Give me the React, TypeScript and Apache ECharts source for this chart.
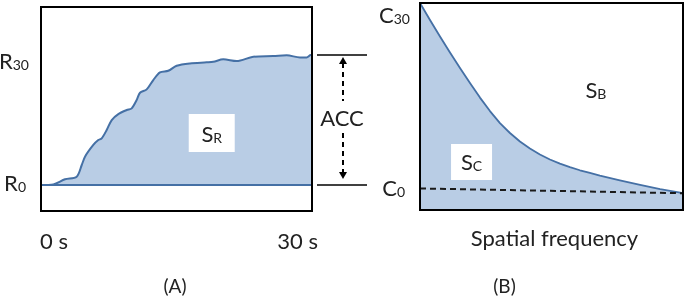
import React, { useEffect, useRef } from 'react';
import * as echarts from 'echarts';

// Panel A: response over time (R0 = 0, R30 = 1)
const timeSec = [0, 1.36, 2.66, 3.95, 4.51, 4.87, 5.79, 6.34, 6.72, 7.27, 7.83, 8.56, 9.49, 10.04, 10.59, 10.96, 11.7, 12.43, 13.17, 14.09, 15.02, 16.49, 18.34, 19.07, 20.18, 21.66, 23.5, 25.71, 27.2, 28.67, 29.41, 29.86, 30];
const responseA = [0, 0.005, 0.044, 0.064, 0.154, 0.218, 0.308, 0.346, 0.359, 0.423, 0.5, 0.546, 0.577, 0.59, 0.654, 0.71, 0.736, 0.808, 0.867, 0.879, 0.918, 0.936, 0.944, 0.948, 0.967, 0.954, 0.987, 0.992, 0.998, 0.982, 0.982, 1.0, 1.0];
const baselineA = [[0, 0], [30, 0], [30, 1]];

// Panel B: contrast vs spatial frequency
const freqB = [0, 3.8, 7.6, 11.4, 15.2, 19.0, 22.8, 26.6, 30.4, 34.2, 38.0, 41.8, 45.6, 49.4, 53.2, 57.0, 60.8, 64.6, 68.4, 76.0, 83.7, 91.3, 100];
const contrastB = [100, 91.8, 83.8, 76.1, 68.6, 61.4, 54.3, 47.8, 42.0, 37.2, 33.1, 29.7, 26.8, 24.4, 22.4, 20.7, 19.2, 17.9, 16.6, 14.3, 12.1, 10.1, 8.1];
const c0Freq = [0, 100];
const c0Level = [10.4, 8.1];

// Labels
const rTicks = [{ base: 'R', sub: '30', value: 1 }, { base: 'R', sub: '0', value: 0 }];
const cTicks = [{ base: 'C', sub: '30', value: 100 }, { base: 'C', sub: '0', value: 10.4 }];
const timeLabels = ['0 s', '30 s'];
const freqLabel = 'Spatial frequency';
const panelLabels = ['(A)', '(B)'];
const accLabel = 'ACC';
const areaLabels = [
  { base: 'S', sub: 'R', x: 18.9, y: 0.4, panel: 0, boxed: true },
  { base: 'S', sub: 'C', x: 19.6, y: 23.2, panel: 1, boxed: true },
  { base: 'S', sub: 'B', x: 66.9, y: 58, panel: 1, boxed: false },
];

const FILL = '#b9cde5';
const LINE = '#4570a5';
const INK = '#222222';
const FONT = 'Lato';

const rich = {
  b: { fontSize: 22, fontFamily: FONT, fill: INK, color: INK, verticalAlign: 'bottom', lineHeight: 22 },
  s: { fontSize: 14, fontFamily: FONT, fill: INK, color: INK, verticalAlign: 'bottom', lineHeight: 15 },
};

export default function App() {
  const ref = useRef<HTMLDivElement>(null);
  useEffect(() => {
    if (!ref.current) return;
    const chart = echarts.init(ref.current, null, { renderer: 'svg' });
    chart.setOption({
      animation: false,
      grid: [
        { left: 41, top: 7, width: 271, height: 204, show: true, borderColor: '#000', borderWidth: 2, backgroundColor: 'transparent', z: 10 },
        { left: 420, top: 3, width: 263, height: 207, show: true, borderColor: '#000', borderWidth: 2, backgroundColor: 'transparent', z: 10 },
      ],
      xAxis: [
        { type: 'value', gridIndex: 0, min: 0, max: 30, show: false },
        { type: 'value', gridIndex: 1, min: 0, max: 100, show: false },
      ],
      yAxis: [
        { type: 'value', gridIndex: 0, min: -0.2, max: 1.37, show: false },
        { type: 'value', gridIndex: 1, min: 0, max: 100, show: false },
      ],
      series: [
        {
          type: 'line', xAxisIndex: 0, yAxisIndex: 0, symbol: 'none', smooth: 0.3,
          data: timeSec.map((t, i) => [t, responseA[i]]),
          lineStyle: { color: LINE, width: 2 },
          areaStyle: { color: FILL, opacity: 1, origin: 0 },
        },
        {
          type: 'line', xAxisIndex: 0, yAxisIndex: 0, symbol: 'none',
          data: baselineA,
          lineStyle: { color: LINE, width: 2 },
        },
        {
          type: 'line', xAxisIndex: 1, yAxisIndex: 1, symbol: 'none', smooth: false,
          data: freqB.map((f, i) => [f, contrastB[i]]),
          lineStyle: { color: LINE, width: 1.8, join: 'round' },
          areaStyle: { color: FILL, opacity: 1, origin: 'start' },
        },
        {
          type: 'line', xAxisIndex: 1, yAxisIndex: 1, symbol: 'none',
          data: c0Freq.map((f, i) => [f, c0Level[i]]),
          lineStyle: { color: '#1a1a1a', width: 2, type: [6, 4] },
          z: 3,
        },
      ],
    });

    const pA = (x: number, y: number) => chart.convertToPixel({ gridIndex: 0 }, [x, y]) as number[];
    const pB = (x: number, y: number) => chart.convertToPixel({ gridIndex: 1 }, [x, y]) as number[];
    const leftA = pA(0, 0)[0];
    const rightA = pA(30, 0)[0];
    const bottomA = pA(0, -0.2)[1];
    const leftB = pB(0, 0)[0];
    const rightB = pB(100, 0)[0];
    const bottomB = pB(0, 0)[1];
    const yR30 = pA(0, 1)[1];
    const yR0 = pA(0, 0)[1];

    const g: any[] = [];
    const txt = (x: number, y: number, text: string, align: string, size = 22, useRich = false) => ({
      type: 'text', x, y, z: 20,
      style: {
        text, align, verticalAlign: 'middle', fill: INK, fontSize: size, fontFamily: FONT,
        ...(useRich ? { rich } : {}),
      },
    });

    // R labels
    rTicks.forEach((t, i) => {
      const y = pA(0, t.value)[1];
      g.push(txt(leftA - (i === 0 ? 12 : 15), y + (i === 0 ? 5 : -3), `{b|${t.base}}{s|${t.sub}}`, 'right', 22, true));
    });
    // C labels
    cTicks.forEach((t, i) => {
      const y = pB(0, t.value)[1];
      g.push(txt(leftB - (i === 0 ? 10 : 15), y + (i === 0 ? 11 : -0.5), `{b|${t.base}}{s|${t.sub}}`, 'right', 22, true));
    });
    // time labels
    g.push(txt(leftA - 1, bottomA + 29, timeLabels[0], 'left'));
    g.push(txt(rightA + 6, bottomA + 29, timeLabels[1], 'right'));
    // frequency label
    g.push(txt((leftB + rightB) / 2 + 3, bottomB + 27, freqLabel, 'center'));
    // panel labels
    g.push(txt(175, 285, panelLabels[0], 'center', 19));
    g.push(txt(504.5, 285, panelLabels[1], 'center', 19));

    // ACC markers
    const ax = rightA + 31;
    [yR30, yR0].forEach((y) => {
      g.push({ type: 'line', z: 20, shape: { x1: rightA + 5, y1: y, x2: rightA + 55, y2: y }, style: { stroke: '#000', lineWidth: 1.5 } });
    });
    const midY = (yR30 + yR0) / 2 - 3;
    g.push({ type: 'line', z: 20, shape: { x1: ax, y1: yR30 + 8, x2: ax, y2: midY - 16 }, style: { stroke: '#000', lineWidth: 2, lineDash: [5, 4] } });
    g.push({ type: 'line', z: 20, shape: { x1: ax, y1: midY + 16, x2: ax, y2: yR0 - 10 }, style: { stroke: '#000', lineWidth: 2, lineDash: [5, 4] } });
    g.push({ type: 'polygon', z: 20, shape: { points: [[ax, yR30 + 2], [ax - 4, yR30 + 9], [ax + 4, yR30 + 9]] }, style: { fill: '#000' } });
    g.push({ type: 'polygon', z: 20, shape: { points: [[ax, yR0 - 6], [ax - 4, yR0 - 13], [ax + 4, yR0 - 13]] }, style: { fill: '#000' } });
    g.push(txt(ax - 1, midY, accLabel, 'center'));

    // area labels
    areaLabels.forEach((a) => {
      const p = a.panel === 0 ? pA(a.x, a.y) : pB(a.x, a.y);
      if (a.boxed) {
        const w = a.panel === 0 ? 46 : 41;
        const h = a.panel === 0 ? 38 : 36;
        g.push({ type: 'rect', z: 19, shape: { x: p[0] - w / 2, y: p[1] - h / 2, width: w, height: h }, style: { fill: '#fff' } });
      }
      g.push(txt(p[0], p[1], `{b|${a.base}}{s|${a.sub}}`, 'center', 22, true));
    });

    chart.setOption({ graphic: g });
    return () => chart.dispose();
  }, []);
  return <div ref={ref} style={{ position: 'fixed', left: 0, top: 0, width: 685, height: 298 }} />;
}
